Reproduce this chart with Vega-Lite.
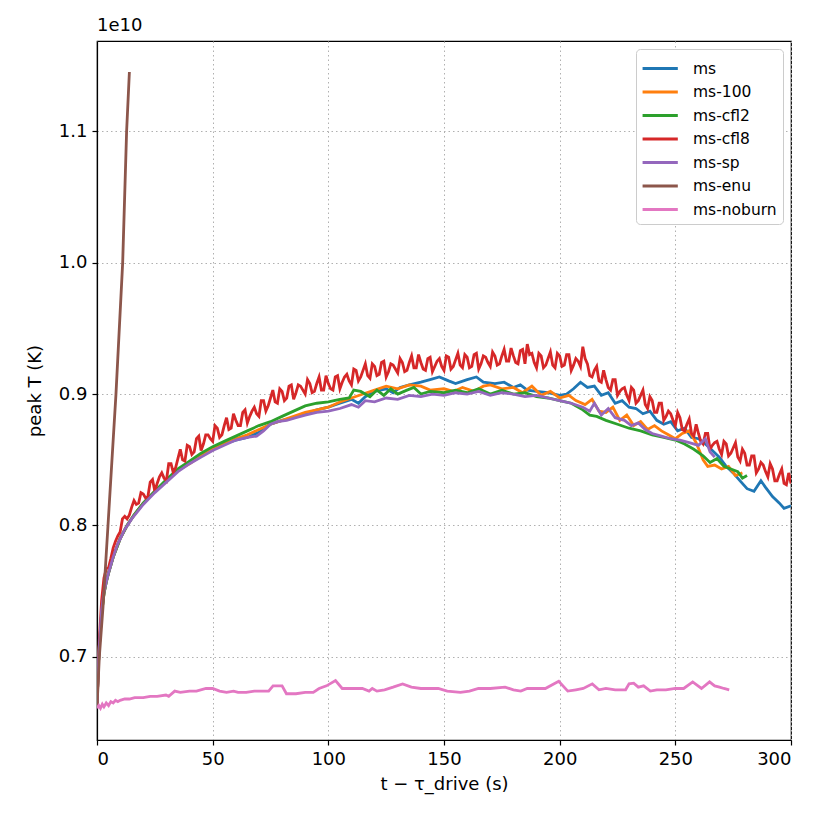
{
  "$schema": "https://vega.github.io/schema/vega-lite/v6.json",
  "width": 694,
  "height": 699,
  "autosize": {"type": "none"},
  "padding": {"left": 97, "top": 41, "right": 39, "bottom": 90},
  "background": "white",
  "title": {"text": "1e10", "anchor": "start", "frame": "group", "fontSize": 18, "fontWeight": "normal", "font": "DejaVu Sans", "offset": 6, "color": "black"},
  "config": {
    "font": "DejaVu Sans",
    "view": {"stroke": "black", "strokeWidth": 1.2},
    "axis": {
      "domainColor": "black", "domainWidth": 1.2, "tickColor": "black", "tickWidth": 1.2, "tickSize": 5,
      "labelColor": "black", "labelFontSize": 18, "labelFont": "DejaVu Sans", "labelPadding": 5,
      "titleFont": "DejaVu Sans", "titleFontSize": 18, "titleFontWeight": "normal", "titleColor": "black",
      "grid": true, "gridColor": "#b0b0b0", "gridDash": [1.5, 3], "gridWidth": 1
    },
    "legend": {
      "orient": "top-right", "offset": 8, "symbolType": "M-1.1,0H1.9", "symbolStrokeWidth": 3, "symbolSize": 552,
      "symbolFillColor": "transparent",
      "labelFontSize": 15.5, "labelFont": "DejaVu Sans", "labelColor": "black", "padding": 6, "rowPadding": 1.5,
      "labelOffset": 24, "strokeColor": "#cccccc", "cornerRadius": 4, "fillColor": "white"
    }
  },
  "data": {"values": [
    {"s":"ms","t":0,"T":0.662},{"s":"ms","t":0.5,"T":0.69},{"s":"ms","t":1,"T":0.708},{"s":"ms","t":2,"T":0.733},{"s":"ms","t":3,"T":0.748},{"s":"ms","t":4,"T":0.757},{"s":"ms","t":5,"T":0.764},{"s":"ms","t":7,"T":0.776},{"s":"ms","t":10,"T":0.790},{"s":"ms","t":13,"T":0.800},{"s":"ms","t":16,"T":0.808},{"s":"ms","t":20,"T":0.817},{"s":"ms","t":25,"T":0.826},{"s":"ms","t":30,"T":0.834},{"s":"ms","t":35,"T":0.842},{"s":"ms","t":40,"T":0.848},{"s":"ms","t":45,"T":0.853},{"s":"ms","t":50,"T":0.858},{"s":"ms","t":55,"T":0.862},{"s":"ms","t":60,"T":0.865},{"s":"ms","t":65,"T":0.867},{"s":"ms","t":70,"T":0.871},{"s":"ms","t":75,"T":0.877},{"s":"ms","t":80,"T":0.880},{"s":"ms","t":85,"T":0.882},{"s":"ms","t":90,"T":0.885},{"s":"ms","t":95,"T":0.888},{"s":"ms","t":100,"T":0.890},{"s":"ms","t":105,"T":0.893},{"s":"ms","t":110,"T":0.896},{"s":"ms","t":113,"T":0.893},{"s":"ms","t":116,"T":0.898},{"s":"ms","t":120,"T":0.902},{"s":"ms","t":125,"T":0.904},{"s":"ms","t":128,"T":0.901},{"s":"ms","t":131,"T":0.905},{"s":"ms","t":135,"T":0.907},{"s":"ms","t":140,"T":0.909},{"s":"ms","t":144,"T":0.911},{"s":"ms","t":148,"T":0.913},{"s":"ms","t":152,"T":0.910},{"s":"ms","t":155,"T":0.908},{"s":"ms","t":160,"T":0.911},{"s":"ms","t":164,"T":0.913},{"s":"ms","t":167,"T":0.909},{"s":"ms","t":172,"T":0.908},{"s":"ms","t":176,"T":0.909},{"s":"ms","t":180,"T":0.905},{"s":"ms","t":183,"T":0.907},{"s":"ms","t":186,"T":0.903},{"s":"ms","t":190,"T":0.902},{"s":"ms","t":195,"T":0.901},{"s":"ms","t":200,"T":0.899},{"s":"ms","t":203,"T":0.900},{"s":"ms","t":206,"T":0.904},{"s":"ms","t":209,"T":0.909},{"s":"ms","t":212,"T":0.905},{"s":"ms","t":215,"T":0.906},{"s":"ms","t":218,"T":0.899},{"s":"ms","t":221,"T":0.901},{"s":"ms","t":224,"T":0.893},{"s":"ms","t":227,"T":0.895},{"s":"ms","t":230,"T":0.890},{"s":"ms","t":233,"T":0.889},{"s":"ms","t":236,"T":0.885},{"s":"ms","t":239,"T":0.887},{"s":"ms","t":242,"T":0.880},{"s":"ms","t":245,"T":0.877},{"s":"ms","t":248,"T":0.879},{"s":"ms","t":251,"T":0.872},{"s":"ms","t":254,"T":0.874},{"s":"ms","t":257,"T":0.867},{"s":"ms","t":260,"T":0.866},{"s":"ms","t":263,"T":0.862},{"s":"ms","t":266,"T":0.857},{"s":"ms","t":269,"T":0.852},{"s":"ms","t":272,"T":0.845},{"s":"ms","t":275,"T":0.840},{"s":"ms","t":278,"T":0.834},{"s":"ms","t":281,"T":0.828},{"s":"ms","t":284,"T":0.826},{"s":"ms","t":287,"T":0.834},{"s":"ms","t":289,"T":0.829},{"s":"ms","t":292,"T":0.822},{"s":"ms","t":295,"T":0.817},{"s":"ms","t":297,"T":0.813},{"s":"ms","t":300,"T":0.815},

    {"s":"ms-100","t":0,"T":0.662},{"s":"ms-100","t":0.5,"T":0.69},{"s":"ms-100","t":1,"T":0.708},{"s":"ms-100","t":2,"T":0.733},{"s":"ms-100","t":3,"T":0.748},{"s":"ms-100","t":4,"T":0.757},{"s":"ms-100","t":5,"T":0.764},{"s":"ms-100","t":7,"T":0.776},{"s":"ms-100","t":10,"T":0.790},{"s":"ms-100","t":13,"T":0.800},{"s":"ms-100","t":16,"T":0.808},{"s":"ms-100","t":20,"T":0.817},{"s":"ms-100","t":25,"T":0.826},{"s":"ms-100","t":30,"T":0.834},{"s":"ms-100","t":35,"T":0.842},{"s":"ms-100","t":40,"T":0.847},{"s":"ms-100","t":45,"T":0.853},{"s":"ms-100","t":50,"T":0.858},{"s":"ms-100","t":55,"T":0.862},{"s":"ms-100","t":60,"T":0.866},{"s":"ms-100","t":65,"T":0.869},{"s":"ms-100","t":70,"T":0.873},{"s":"ms-100","t":75,"T":0.877},{"s":"ms-100","t":80,"T":0.880},{"s":"ms-100","t":85,"T":0.883},{"s":"ms-100","t":90,"T":0.886},{"s":"ms-100","t":95,"T":0.888},{"s":"ms-100","t":100,"T":0.890},{"s":"ms-100","t":105,"T":0.894},{"s":"ms-100","t":110,"T":0.897},{"s":"ms-100","t":115,"T":0.900},{"s":"ms-100","t":120,"T":0.903},{"s":"ms-100","t":125,"T":0.906},{"s":"ms-100","t":130,"T":0.904},{"s":"ms-100","t":135,"T":0.907},{"s":"ms-100","t":140,"T":0.906},{"s":"ms-100","t":144,"T":0.903},{"s":"ms-100","t":150,"T":0.904},{"s":"ms-100","t":154,"T":0.902},{"s":"ms-100","t":158,"T":0.905},{"s":"ms-100","t":163,"T":0.902},{"s":"ms-100","t":167,"T":0.906},{"s":"ms-100","t":170,"T":0.907},{"s":"ms-100","t":175,"T":0.904},{"s":"ms-100","t":180,"T":0.905},{"s":"ms-100","t":184,"T":0.901},{"s":"ms-100","t":188,"T":0.906},{"s":"ms-100","t":192,"T":0.899},{"s":"ms-100","t":196,"T":0.902},{"s":"ms-100","t":200,"T":0.897},{"s":"ms-100","t":204,"T":0.899},{"s":"ms-100","t":207,"T":0.895},{"s":"ms-100","t":211,"T":0.892},{"s":"ms-100","t":214,"T":0.896},{"s":"ms-100","t":217,"T":0.887},{"s":"ms-100","t":220,"T":0.886},{"s":"ms-100","t":223,"T":0.890},{"s":"ms-100","t":226,"T":0.880},{"s":"ms-100","t":229,"T":0.884},{"s":"ms-100","t":232,"T":0.876},{"s":"ms-100","t":235,"T":0.879},{"s":"ms-100","t":238,"T":0.873},{"s":"ms-100","t":241,"T":0.876},{"s":"ms-100","t":244,"T":0.872},{"s":"ms-100","t":247,"T":0.869},{"s":"ms-100","t":250,"T":0.866},{"s":"ms-100","t":253,"T":0.870},{"s":"ms-100","t":256,"T":0.872},{"s":"ms-100","t":259,"T":0.863},{"s":"ms-100","t":262,"T":0.850},{"s":"ms-100","t":264,"T":0.845},{"s":"ms-100","t":267,"T":0.846},{"s":"ms-100","t":270,"T":0.843},{"s":"ms-100","t":273,"T":0.845},{"s":"ms-100","t":276,"T":0.838},{"s":"ms-100","t":279,"T":0.840},

    {"s":"ms-cfl2","t":0,"T":0.662},{"s":"ms-cfl2","t":0.5,"T":0.69},{"s":"ms-cfl2","t":1,"T":0.708},{"s":"ms-cfl2","t":2,"T":0.733},{"s":"ms-cfl2","t":3,"T":0.748},{"s":"ms-cfl2","t":4,"T":0.757},{"s":"ms-cfl2","t":5,"T":0.764},{"s":"ms-cfl2","t":7,"T":0.776},{"s":"ms-cfl2","t":10,"T":0.790},{"s":"ms-cfl2","t":13,"T":0.800},{"s":"ms-cfl2","t":16,"T":0.808},{"s":"ms-cfl2","t":20,"T":0.817},{"s":"ms-cfl2","t":25,"T":0.826},{"s":"ms-cfl2","t":30,"T":0.835},{"s":"ms-cfl2","t":35,"T":0.843},{"s":"ms-cfl2","t":40,"T":0.849},{"s":"ms-cfl2","t":45,"T":0.855},{"s":"ms-cfl2","t":50,"T":0.860},{"s":"ms-cfl2","t":55,"T":0.864},{"s":"ms-cfl2","t":60,"T":0.868},{"s":"ms-cfl2","t":65,"T":0.872},{"s":"ms-cfl2","t":70,"T":0.876},{"s":"ms-cfl2","t":75,"T":0.879},{"s":"ms-cfl2","t":80,"T":0.883},{"s":"ms-cfl2","t":85,"T":0.887},{"s":"ms-cfl2","t":90,"T":0.891},{"s":"ms-cfl2","t":95,"T":0.893},{"s":"ms-cfl2","t":100,"T":0.894},{"s":"ms-cfl2","t":105,"T":0.896},{"s":"ms-cfl2","t":109,"T":0.897},{"s":"ms-cfl2","t":111,"T":0.903},{"s":"ms-cfl2","t":114,"T":0.902},{"s":"ms-cfl2","t":118,"T":0.898},{"s":"ms-cfl2","t":121,"T":0.903},{"s":"ms-cfl2","t":124,"T":0.899},{"s":"ms-cfl2","t":127,"T":0.904},{"s":"ms-cfl2","t":130,"T":0.900},{"s":"ms-cfl2","t":134,"T":0.903},{"s":"ms-cfl2","t":137,"T":0.905},{"s":"ms-cfl2","t":140,"T":0.900},{"s":"ms-cfl2","t":144,"T":0.902},{"s":"ms-cfl2","t":150,"T":0.901},{"s":"ms-cfl2","t":155,"T":0.903},{"s":"ms-cfl2","t":160,"T":0.901},{"s":"ms-cfl2","t":165,"T":0.904},{"s":"ms-cfl2","t":170,"T":0.900},{"s":"ms-cfl2","t":175,"T":0.903},{"s":"ms-cfl2","t":180,"T":0.900},{"s":"ms-cfl2","t":185,"T":0.901},{"s":"ms-cfl2","t":190,"T":0.898},{"s":"ms-cfl2","t":195,"T":0.897},{"s":"ms-cfl2","t":200,"T":0.895},{"s":"ms-cfl2","t":205,"T":0.893},{"s":"ms-cfl2","t":210,"T":0.888},{"s":"ms-cfl2","t":213,"T":0.884},{"s":"ms-cfl2","t":216,"T":0.883},{"s":"ms-cfl2","t":220,"T":0.880},{"s":"ms-cfl2","t":225,"T":0.877},{"s":"ms-cfl2","t":230,"T":0.874},{"s":"ms-cfl2","t":235,"T":0.872},{"s":"ms-cfl2","t":240,"T":0.869},{"s":"ms-cfl2","t":245,"T":0.867},{"s":"ms-cfl2","t":250,"T":0.865},{"s":"ms-cfl2","t":254,"T":0.862},{"s":"ms-cfl2","t":258,"T":0.858},{"s":"ms-cfl2","t":262,"T":0.853},{"s":"ms-cfl2","t":265,"T":0.848},{"s":"ms-cfl2","t":268,"T":0.851},{"s":"ms-cfl2","t":271,"T":0.845},{"s":"ms-cfl2","t":274,"T":0.843},{"s":"ms-cfl2","t":277,"T":0.841},{"s":"ms-cfl2","t":279,"T":0.836},{"s":"ms-cfl2","t":281,"T":0.838},

    {"s":"ms-cfl8","t":0,"T":0.662},{"s":"ms-cfl8","t":2,"T":0.743},{"s":"ms-cfl8","t":4,"T":0.767},{"s":"ms-cfl8","t":6,"T":0.775},{"s":"ms-cfl8","t":8,"T":0.788},{"s":"ms-cfl8","t":10,"T":0.795},{"s":"ms-cfl8","t":12,"T":0.807},{"s":"ms-cfl8","t":14,"T":0.808},{"s":"ms-cfl8","t":16,"T":0.819},{"s":"ms-cfl8","t":18,"T":0.817},{"s":"ms-cfl8","t":20,"T":0.824},{"s":"ms-cfl8","t":22,"T":0.822},{"s":"ms-cfl8","t":24,"T":0.835},{"s":"ms-cfl8","t":26,"T":0.832},{"s":"ms-cfl8","t":28,"T":0.840},{"s":"ms-cfl8","t":30,"T":0.834},{"s":"ms-cfl8","t":32,"T":0.847},{"s":"ms-cfl8","t":34,"T":0.844},{"s":"ms-cfl8","t":36,"T":0.858},{"s":"ms-cfl8","t":38,"T":0.849},{"s":"ms-cfl8","t":40,"T":0.860},{"s":"ms-cfl8","t":42,"T":0.856},{"s":"ms-cfl8","t":44,"T":0.868},{"s":"ms-cfl8","t":46,"T":0.862},{"s":"ms-cfl8","t":48,"T":0.869},{"s":"ms-cfl8","t":50,"T":0.864},{"s":"ms-cfl8","t":52,"T":0.874},{"s":"ms-cfl8","t":54,"T":0.869},{"s":"ms-cfl8","t":56,"T":0.882},{"s":"ms-cfl8","t":58,"T":0.874},{"s":"ms-cfl8","t":60,"T":0.880},{"s":"ms-cfl8","t":62,"T":0.876},{"s":"ms-cfl8","t":64,"T":0.888},{"s":"ms-cfl8","t":66,"T":0.883},{"s":"ms-cfl8","t":68,"T":0.890},{"s":"ms-cfl8","t":70,"T":0.883},{"s":"ms-cfl8","t":72,"T":0.895},{"s":"ms-cfl8","t":74,"T":0.891},{"s":"ms-cfl8","t":76,"T":0.903},{"s":"ms-cfl8","t":78,"T":0.893},{"s":"ms-cfl8","t":80,"T":0.902},{"s":"ms-cfl8","t":82,"T":0.897},{"s":"ms-cfl8","t":84,"T":0.907},{"s":"ms-cfl8","t":86,"T":0.901},{"s":"ms-cfl8","t":88,"T":0.906},{"s":"ms-cfl8","t":90,"T":0.900},{"s":"ms-cfl8","t":92,"T":0.908},{"s":"ms-cfl8","t":94,"T":0.902},{"s":"ms-cfl8","t":96,"T":0.913},{"s":"ms-cfl8","t":98,"T":0.903},{"s":"ms-cfl8","t":100,"T":0.908},{"s":"ms-cfl8","t":102,"T":0.903},{"s":"ms-cfl8","t":104,"T":0.914},{"s":"ms-cfl8","t":106,"T":0.909},{"s":"ms-cfl8","t":108,"T":0.915},{"s":"ms-cfl8","t":110,"T":0.907},{"s":"ms-cfl8","t":112,"T":0.918},{"s":"ms-cfl8","t":114,"T":0.913},{"s":"ms-cfl8","t":116,"T":0.923},{"s":"ms-cfl8","t":118,"T":0.912},{"s":"ms-cfl8","t":120,"T":0.921},{"s":"ms-cfl8","t":122,"T":0.915},{"s":"ms-cfl8","t":124,"T":0.925},{"s":"ms-cfl8","t":126,"T":0.917},{"s":"ms-cfl8","t":128,"T":0.922},{"s":"ms-cfl8","t":130,"T":0.916},{"s":"ms-cfl8","t":132,"T":0.924},{"s":"ms-cfl8","t":134,"T":0.918},{"s":"ms-cfl8","t":136,"T":0.929},{"s":"ms-cfl8","t":138,"T":0.920},{"s":"ms-cfl8","t":140,"T":0.924},{"s":"ms-cfl8","t":142,"T":0.918},{"s":"ms-cfl8","t":144,"T":0.928},{"s":"ms-cfl8","t":146,"T":0.921},{"s":"ms-cfl8","t":148,"T":0.927},{"s":"ms-cfl8","t":150,"T":0.918},{"s":"ms-cfl8","t":152,"T":0.928},{"s":"ms-cfl8","t":154,"T":0.921},{"s":"ms-cfl8","t":156,"T":0.931},{"s":"ms-cfl8","t":158,"T":0.920},{"s":"ms-cfl8","t":160,"T":0.928},{"s":"ms-cfl8","t":162,"T":0.921},{"s":"ms-cfl8","t":164,"T":0.931},{"s":"ms-cfl8","t":166,"T":0.923},{"s":"ms-cfl8","t":168,"T":0.928},{"s":"ms-cfl8","t":170,"T":0.921},{"s":"ms-cfl8","t":172,"T":0.929},{"s":"ms-cfl8","t":174,"T":0.923},{"s":"ms-cfl8","t":176,"T":0.934},{"s":"ms-cfl8","t":178,"T":0.925},{"s":"ms-cfl8","t":180,"T":0.929},{"s":"ms-cfl8","t":182,"T":0.923},{"s":"ms-cfl8","t":184,"T":0.934},{"s":"ms-cfl8","t":186,"T":0.938},{"s":"ms-cfl8","t":188,"T":0.931},{"s":"ms-cfl8","t":190,"T":0.920},{"s":"ms-cfl8","t":192,"T":0.929},{"s":"ms-cfl8","t":194,"T":0.922},{"s":"ms-cfl8","t":196,"T":0.932},{"s":"ms-cfl8","t":198,"T":0.920},{"s":"ms-cfl8","t":200,"T":0.929},{"s":"ms-cfl8","t":202,"T":0.922},{"s":"ms-cfl8","t":204,"T":0.930},{"s":"ms-cfl8","t":206,"T":0.922},{"s":"ms-cfl8","t":208,"T":0.925},{"s":"ms-cfl8","t":210,"T":0.936},{"s":"ms-cfl8","t":212,"T":0.923},{"s":"ms-cfl8","t":214,"T":0.913},{"s":"ms-cfl8","t":216,"T":0.921},{"s":"ms-cfl8","t":218,"T":0.909},{"s":"ms-cfl8","t":220,"T":0.911},{"s":"ms-cfl8","t":222,"T":0.903},{"s":"ms-cfl8","t":224,"T":0.911},{"s":"ms-cfl8","t":226,"T":0.902},{"s":"ms-cfl8","t":228,"T":0.905},{"s":"ms-cfl8","t":230,"T":0.895},{"s":"ms-cfl8","t":232,"T":0.903},{"s":"ms-cfl8","t":234,"T":0.895},{"s":"ms-cfl8","t":236,"T":0.903},{"s":"ms-cfl8","t":238,"T":0.889},{"s":"ms-cfl8","t":240,"T":0.895},{"s":"ms-cfl8","t":242,"T":0.886},{"s":"ms-cfl8","t":244,"T":0.893},{"s":"ms-cfl8","t":246,"T":0.883},{"s":"ms-cfl8","t":248,"T":0.885},{"s":"ms-cfl8","t":250,"T":0.876},{"s":"ms-cfl8","t":252,"T":0.882},{"s":"ms-cfl8","t":254,"T":0.872},{"s":"ms-cfl8","t":256,"T":0.881},{"s":"ms-cfl8","t":258,"T":0.868},{"s":"ms-cfl8","t":260,"T":0.870},{"s":"ms-cfl8","t":262,"T":0.862},{"s":"ms-cfl8","t":264,"T":0.870},{"s":"ms-cfl8","t":266,"T":0.861},{"s":"ms-cfl8","t":268,"T":0.864},{"s":"ms-cfl8","t":270,"T":0.854},{"s":"ms-cfl8","t":272,"T":0.862},{"s":"ms-cfl8","t":274,"T":0.855},{"s":"ms-cfl8","t":276,"T":0.863},{"s":"ms-cfl8","t":278,"T":0.849},{"s":"ms-cfl8","t":280,"T":0.855},{"s":"ms-cfl8","t":282,"T":0.846},{"s":"ms-cfl8","t":284,"T":0.853},{"s":"ms-cfl8","t":286,"T":0.843},{"s":"ms-cfl8","t":288,"T":0.846},{"s":"ms-cfl8","t":290,"T":0.837},{"s":"ms-cfl8","t":292,"T":0.843},{"s":"ms-cfl8","t":294,"T":0.834},{"s":"ms-cfl8","t":296,"T":0.843},{"s":"ms-cfl8","t":298,"T":0.831},{"s":"ms-cfl8","t":300,"T":0.832},
    {"s":"ms-cfl8","t":1,"T":0.713},{"s":"ms-cfl8","t":3,"T":0.760},{"s":"ms-cfl8","t":5,"T":0.768},{"s":"ms-cfl8","t":7,"T":0.783},{"s":"ms-cfl8","t":9,"T":0.792},{"s":"ms-cfl8","t":11,"T":0.805},{"s":"ms-cfl8","t":13,"T":0.805},{"s":"ms-cfl8","t":15,"T":0.814},{"s":"ms-cfl8","t":17,"T":0.816},{"s":"ms-cfl8","t":19,"T":0.825},{"s":"ms-cfl8","t":21,"T":0.821},{"s":"ms-cfl8","t":23,"T":0.833},{"s":"ms-cfl8","t":25,"T":0.826},{"s":"ms-cfl8","t":27,"T":0.837},{"s":"ms-cfl8","t":29,"T":0.836},{"s":"ms-cfl8","t":31,"T":0.847},{"s":"ms-cfl8","t":33,"T":0.840},{"s":"ms-cfl8","t":35,"T":0.851},{"s":"ms-cfl8","t":37,"T":0.850},{"s":"ms-cfl8","t":39,"T":0.861},{"s":"ms-cfl8","t":41,"T":0.854},{"s":"ms-cfl8","t":43,"T":0.866},{"s":"ms-cfl8","t":45,"T":0.857},{"s":"ms-cfl8","t":47,"T":0.869},{"s":"ms-cfl8","t":49,"T":0.866},{"s":"ms-cfl8","t":51,"T":0.876},{"s":"ms-cfl8","t":53,"T":0.867},{"s":"ms-cfl8","t":55,"T":0.876},{"s":"ms-cfl8","t":57,"T":0.873},{"s":"ms-cfl8","t":59,"T":0.885},{"s":"ms-cfl8","t":61,"T":0.876},{"s":"ms-cfl8","t":63,"T":0.886},{"s":"ms-cfl8","t":65,"T":0.878},{"s":"ms-cfl8","t":67,"T":0.887},{"s":"ms-cfl8","t":69,"T":0.885},{"s":"ms-cfl8","t":71,"T":0.895},{"s":"ms-cfl8","t":73,"T":0.887},{"s":"ms-cfl8","t":75,"T":0.897},{"s":"ms-cfl8","t":77,"T":0.894},{"s":"ms-cfl8","t":79,"T":0.904},{"s":"ms-cfl8","t":81,"T":0.895},{"s":"ms-cfl8","t":83,"T":0.906},{"s":"ms-cfl8","t":85,"T":0.896},{"s":"ms-cfl8","t":87,"T":0.907},{"s":"ms-cfl8","t":89,"T":0.903},{"s":"ms-cfl8","t":91,"T":0.911},{"s":"ms-cfl8","t":93,"T":0.901},{"s":"ms-cfl8","t":95,"T":0.908},{"s":"ms-cfl8","t":97,"T":0.903},{"s":"ms-cfl8","t":99,"T":0.914},{"s":"ms-cfl8","t":101,"T":0.904},{"s":"ms-cfl8","t":103,"T":0.913},{"s":"ms-cfl8","t":105,"T":0.904},{"s":"ms-cfl8","t":107,"T":0.913},{"s":"ms-cfl8","t":109,"T":0.910},{"s":"ms-cfl8","t":111,"T":0.919},{"s":"ms-cfl8","t":113,"T":0.910},{"s":"ms-cfl8","t":115,"T":0.918},{"s":"ms-cfl8","t":117,"T":0.914},{"s":"ms-cfl8","t":119,"T":0.923},{"s":"ms-cfl8","t":121,"T":0.914},{"s":"ms-cfl8","t":123,"T":0.924},{"s":"ms-cfl8","t":125,"T":0.913},{"s":"ms-cfl8","t":127,"T":0.923},{"s":"ms-cfl8","t":129,"T":0.919},{"s":"ms-cfl8","t":131,"T":0.927},{"s":"ms-cfl8","t":133,"T":0.917},{"s":"ms-cfl8","t":135,"T":0.924},{"s":"ms-cfl8","t":137,"T":0.920},{"s":"ms-cfl8","t":139,"T":0.930},{"s":"ms-cfl8","t":141,"T":0.919},{"s":"ms-cfl8","t":143,"T":0.927},{"s":"ms-cfl8","t":145,"T":0.917},{"s":"ms-cfl8","t":147,"T":0.925},{"s":"ms-cfl8","t":149,"T":0.921},{"s":"ms-cfl8","t":151,"T":0.929},{"s":"ms-cfl8","t":153,"T":0.919},{"s":"ms-cfl8","t":155,"T":0.926},{"s":"ms-cfl8","t":157,"T":0.922},{"s":"ms-cfl8","t":159,"T":0.930},{"s":"ms-cfl8","t":161,"T":0.920},{"s":"ms-cfl8","t":163,"T":0.930},{"s":"ms-cfl8","t":165,"T":0.919},{"s":"ms-cfl8","t":167,"T":0.929},{"s":"ms-cfl8","t":169,"T":0.924},{"s":"ms-cfl8","t":171,"T":0.932},{"s":"ms-cfl8","t":173,"T":0.922},{"s":"ms-cfl8","t":175,"T":0.929},{"s":"ms-cfl8","t":177,"T":0.925},{"s":"ms-cfl8","t":179,"T":0.935},{"s":"ms-cfl8","t":181,"T":0.924},{"s":"ms-cfl8","t":183,"T":0.933},{"s":"ms-cfl8","t":185,"T":0.923},{"s":"ms-cfl8","t":187,"T":0.930},{"s":"ms-cfl8","t":189,"T":0.924},{"s":"ms-cfl8","t":191,"T":0.931},{"s":"ms-cfl8","t":193,"T":0.920},{"s":"ms-cfl8","t":195,"T":0.927},{"s":"ms-cfl8","t":197,"T":0.922},{"s":"ms-cfl8","t":199,"T":0.931},{"s":"ms-cfl8","t":201,"T":0.921},{"s":"ms-cfl8","t":203,"T":0.930},{"s":"ms-cfl8","t":205,"T":0.918},{"s":"ms-cfl8","t":207,"T":0.927},{"s":"ms-cfl8","t":209,"T":0.921},{"s":"ms-cfl8","t":211,"T":0.927},{"s":"ms-cfl8","t":213,"T":0.914},{"s":"ms-cfl8","t":215,"T":0.918},{"s":"ms-cfl8","t":217,"T":0.910},{"s":"ms-cfl8","t":219,"T":0.918},{"s":"ms-cfl8","t":221,"T":0.905},{"s":"ms-cfl8","t":223,"T":0.911},{"s":"ms-cfl8","t":225,"T":0.899},{"s":"ms-cfl8","t":227,"T":0.904},{"s":"ms-cfl8","t":229,"T":0.899},{"s":"ms-cfl8","t":231,"T":0.905},{"s":"ms-cfl8","t":233,"T":0.893},{"s":"ms-cfl8","t":235,"T":0.899},{"s":"ms-cfl8","t":237,"T":0.892},{"s":"ms-cfl8","t":239,"T":0.898},{"s":"ms-cfl8","t":241,"T":0.886},{"s":"ms-cfl8","t":243,"T":0.893},{"s":"ms-cfl8","t":245,"T":0.880},{"s":"ms-cfl8","t":247,"T":0.887},{"s":"ms-cfl8","t":249,"T":0.880},{"s":"ms-cfl8","t":251,"T":0.886},{"s":"ms-cfl8","t":253,"T":0.873},{"s":"ms-cfl8","t":255,"T":0.877},{"s":"ms-cfl8","t":257,"T":0.870},{"s":"ms-cfl8","t":259,"T":0.877},{"s":"ms-cfl8","t":261,"T":0.864},{"s":"ms-cfl8","t":263,"T":0.870},{"s":"ms-cfl8","t":265,"T":0.858},{"s":"ms-cfl8","t":267,"T":0.863},{"s":"ms-cfl8","t":269,"T":0.858},{"s":"ms-cfl8","t":271,"T":0.864},{"s":"ms-cfl8","t":273,"T":0.853},{"s":"ms-cfl8","t":275,"T":0.859},{"s":"ms-cfl8","t":277,"T":0.852},{"s":"ms-cfl8","t":279,"T":0.858},{"s":"ms-cfl8","t":281,"T":0.846},{"s":"ms-cfl8","t":283,"T":0.853},{"s":"ms-cfl8","t":285,"T":0.840},{"s":"ms-cfl8","t":287,"T":0.848},{"s":"ms-cfl8","t":289,"T":0.841},{"s":"ms-cfl8","t":291,"T":0.847},{"s":"ms-cfl8","t":293,"T":0.834},{"s":"ms-cfl8","t":295,"T":0.839},{"s":"ms-cfl8","t":297,"T":0.832},{"s":"ms-cfl8","t":299,"T":0.840},

    {"s":"ms-sp","t":0,"T":0.662},{"s":"ms-sp","t":0.5,"T":0.69},{"s":"ms-sp","t":1,"T":0.708},{"s":"ms-sp","t":2,"T":0.736},{"s":"ms-sp","t":3,"T":0.749},{"s":"ms-sp","t":4,"T":0.757},{"s":"ms-sp","t":5,"T":0.764},{"s":"ms-sp","t":7,"T":0.776},{"s":"ms-sp","t":9,"T":0.786},{"s":"ms-sp","t":12,"T":0.797},{"s":"ms-sp","t":15,"T":0.805},{"s":"ms-sp","t":20,"T":0.816},{"s":"ms-sp","t":25,"T":0.825},{"s":"ms-sp","t":30,"T":0.833},{"s":"ms-sp","t":35,"T":0.841},{"s":"ms-sp","t":40,"T":0.847},{"s":"ms-sp","t":45,"T":0.852},{"s":"ms-sp","t":50,"T":0.857},{"s":"ms-sp","t":55,"T":0.861},{"s":"ms-sp","t":60,"T":0.865},{"s":"ms-sp","t":65,"T":0.867},{"s":"ms-sp","t":69,"T":0.868},{"s":"ms-sp","t":72,"T":0.872},{"s":"ms-sp","t":75,"T":0.877},{"s":"ms-sp","t":78,"T":0.879},{"s":"ms-sp","t":82,"T":0.880},{"s":"ms-sp","t":86,"T":0.882},{"s":"ms-sp","t":90,"T":0.884},{"s":"ms-sp","t":95,"T":0.886},{"s":"ms-sp","t":100,"T":0.887},{"s":"ms-sp","t":105,"T":0.889},{"s":"ms-sp","t":110,"T":0.892},{"s":"ms-sp","t":113,"T":0.890},{"s":"ms-sp","t":116,"T":0.895},{"s":"ms-sp","t":120,"T":0.894},{"s":"ms-sp","t":125,"T":0.897},{"s":"ms-sp","t":130,"T":0.896},{"s":"ms-sp","t":135,"T":0.899},{"s":"ms-sp","t":140,"T":0.898},{"s":"ms-sp","t":145,"T":0.900},{"s":"ms-sp","t":150,"T":0.899},{"s":"ms-sp","t":155,"T":0.901},{"s":"ms-sp","t":160,"T":0.900},{"s":"ms-sp","t":165,"T":0.902},{"s":"ms-sp","t":170,"T":0.899},{"s":"ms-sp","t":175,"T":0.901},{"s":"ms-sp","t":180,"T":0.900},{"s":"ms-sp","t":185,"T":0.898},{"s":"ms-sp","t":190,"T":0.899},{"s":"ms-sp","t":195,"T":0.897},{"s":"ms-sp","t":200,"T":0.895},{"s":"ms-sp","t":205,"T":0.893},{"s":"ms-sp","t":210,"T":0.890},{"s":"ms-sp","t":213,"T":0.887},{"s":"ms-sp","t":215,"T":0.893},{"s":"ms-sp","t":218,"T":0.884},{"s":"ms-sp","t":221,"T":0.889},{"s":"ms-sp","t":224,"T":0.882},{"s":"ms-sp","t":228,"T":0.880},{"s":"ms-sp","t":231,"T":0.876},{"s":"ms-sp","t":234,"T":0.878},{"s":"ms-sp","t":237,"T":0.873},{"s":"ms-sp","t":240,"T":0.870},{"s":"ms-sp","t":244,"T":0.868},{"s":"ms-sp","t":248,"T":0.866},{"s":"ms-sp","t":252,"T":0.865},{"s":"ms-sp","t":256,"T":0.863},{"s":"ms-sp","t":260,"T":0.861},{"s":"ms-sp","t":263,"T":0.866},{"s":"ms-sp","t":265,"T":0.856},{"s":"ms-sp","t":267,"T":0.852},

    {"s":"ms-enu","t":0,"T":0.662},{"s":"ms-enu","t":1,"T":0.70},{"s":"ms-enu","t":2.6,"T":0.738},{"s":"ms-enu","t":4.75,"T":0.80},{"s":"ms-enu","t":8.2,"T":0.90},{"s":"ms-enu","t":11.1,"T":1.00},{"s":"ms-enu","t":12.8,"T":1.10},{"s":"ms-enu","t":14.0,"T":1.145},

    {"s":"ms-noburn","t":0,"T":0.661},{"s":"ms-noburn","t":0.8,"T":0.663},{"s":"ms-noburn","t":1.5,"T":0.661},{"s":"ms-noburn","t":2.3,"T":0.664},{"s":"ms-noburn","t":3,"T":0.662},{"s":"ms-noburn","t":4,"T":0.665},{"s":"ms-noburn","t":5,"T":0.663},{"s":"ms-noburn","t":6,"T":0.666},{"s":"ms-noburn","t":7,"T":0.665},{"s":"ms-noburn","t":8,"T":0.667},{"s":"ms-noburn","t":9,"T":0.666},{"s":"ms-noburn","t":10,"T":0.667},{"s":"ms-noburn","t":12,"T":0.668},{"s":"ms-noburn","t":14,"T":0.668},{"s":"ms-noburn","t":16.3,"T":0.669},{"s":"ms-noburn","t":20,"T":0.669},{"s":"ms-noburn","t":23,"T":0.670},{"s":"ms-noburn","t":26,"T":0.670},{"s":"ms-noburn","t":29.8,"T":0.671},{"s":"ms-noburn","t":31,"T":0.670},{"s":"ms-noburn","t":33.6,"T":0.674},{"s":"ms-noburn","t":36,"T":0.673},{"s":"ms-noburn","t":40,"T":0.674},{"s":"ms-noburn","t":43,"T":0.674},{"s":"ms-noburn","t":47.1,"T":0.676},{"s":"ms-noburn","t":50,"T":0.676},{"s":"ms-noburn","t":53,"T":0.674},{"s":"ms-noburn","t":56,"T":0.673},{"s":"ms-noburn","t":59,"T":0.674},{"s":"ms-noburn","t":61,"T":0.673},{"s":"ms-noburn","t":64.5,"T":0.673},{"s":"ms-noburn","t":68,"T":0.674},{"s":"ms-noburn","t":71,"T":0.674},{"s":"ms-noburn","t":74.2,"T":0.674},{"s":"ms-noburn","t":76.1,"T":0.678},{"s":"ms-noburn","t":80,"T":0.678},{"s":"ms-noburn","t":81.9,"T":0.672},{"s":"ms-noburn","t":86,"T":0.672},{"s":"ms-noburn","t":90,"T":0.673},{"s":"ms-noburn","t":93.5,"T":0.673},{"s":"ms-noburn","t":96,"T":0.676},{"s":"ms-noburn","t":99.2,"T":0.678},{"s":"ms-noburn","t":103.1,"T":0.682},{"s":"ms-noburn","t":106,"T":0.676},{"s":"ms-noburn","t":110,"T":0.676},{"s":"ms-noburn","t":114.7,"T":0.676},{"s":"ms-noburn","t":117.6,"T":0.674},{"s":"ms-noburn","t":119,"T":0.676},{"s":"ms-noburn","t":121,"T":0.674},{"s":"ms-noburn","t":124.3,"T":0.675},{"s":"ms-noburn","t":128,"T":0.677},{"s":"ms-noburn","t":132.1,"T":0.6795},{"s":"ms-noburn","t":135.9,"T":0.677},{"s":"ms-noburn","t":140,"T":0.676},{"s":"ms-noburn","t":147.5,"T":0.676},{"s":"ms-noburn","t":151.4,"T":0.674},{"s":"ms-noburn","t":157.1,"T":0.673},{"s":"ms-noburn","t":161,"T":0.674},{"s":"ms-noburn","t":164.9,"T":0.676},{"s":"ms-noburn","t":170,"T":0.676},{"s":"ms-noburn","t":176.4,"T":0.677},{"s":"ms-noburn","t":180,"T":0.675},{"s":"ms-noburn","t":183.2,"T":0.674},{"s":"ms-noburn","t":186,"T":0.676},{"s":"ms-noburn","t":190,"T":0.676},{"s":"ms-noburn","t":193.8,"T":0.676},{"s":"ms-noburn","t":199.6,"T":0.6815},{"s":"ms-noburn","t":203.5,"T":0.674},{"s":"ms-noburn","t":207,"T":0.675},{"s":"ms-noburn","t":210.2,"T":0.676},{"s":"ms-noburn","t":214.1,"T":0.6795},{"s":"ms-noburn","t":217,"T":0.675},{"s":"ms-noburn","t":220,"T":0.676},{"s":"ms-noburn","t":224,"T":0.675},{"s":"ms-noburn","t":228.5,"T":0.675},{"s":"ms-noburn","t":230,"T":0.6795},{"s":"ms-noburn","t":232,"T":0.680},{"s":"ms-noburn","t":234,"T":0.677},{"s":"ms-noburn","t":236.3,"T":0.678},{"s":"ms-noburn","t":239.2,"T":0.674},{"s":"ms-noburn","t":242,"T":0.675},{"s":"ms-noburn","t":245.9,"T":0.675},{"s":"ms-noburn","t":250,"T":0.676},{"s":"ms-noburn","t":253.6,"T":0.676},{"s":"ms-noburn","t":257.5,"T":0.681},{"s":"ms-noburn","t":261.3,"T":0.676},{"s":"ms-noburn","t":264.8,"T":0.681},{"s":"ms-noburn","t":267,"T":0.678},{"s":"ms-noburn","t":269.1,"T":0.677},{"s":"ms-noburn","t":271,"T":0.676},{"s":"ms-noburn","t":273.3,"T":0.675}
  ]},
  "mark": {"type": "line", "strokeWidth": 2.8, "clip": true},
  "encoding": {
    "x": {
      "field": "t", "type": "quantitative",
      "scale": {"domain": [0, 300], "nice": false, "zero": false},
      "axis": {"values": [0, 50, 100, 150, 200, 250, 300], "title": "t − τ_drive (s)", "titlePadding": 7}
    },
    "y": {
      "field": "T", "type": "quantitative",
      "scale": {"domain": [0.6368, 1.1686], "nice": false, "zero": false},
      "axis": {"values": [0.7, 0.8, 0.9, 1.0, 1.1], "format": ".1f", "title": "peak T (K)", "titlePadding": 14}
    },
    "color": {
      "field": "s", "type": "nominal", "title": null,
      "scale": {
        "domain": ["ms", "ms-100", "ms-cfl2", "ms-cfl8", "ms-sp", "ms-enu", "ms-noburn"],
        "range": ["#1f77b4", "#ff7f0e", "#2ca02c", "#d62728", "#9467bd", "#8c564b", "#e377c2"]
      }
    }
  }
}
